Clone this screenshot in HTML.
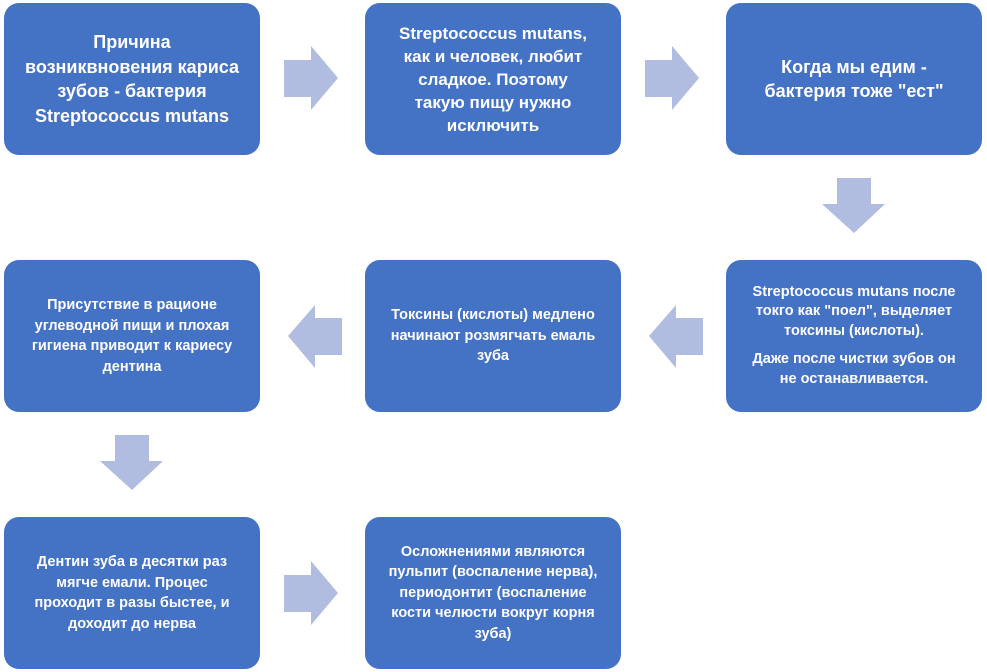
<!DOCTYPE html>
<html><head><meta charset="utf-8"><style>
body{margin:0;width:987px;height:672px;background:#fff;position:relative;overflow:hidden;font-family:"Liberation Sans",sans-serif;}
.b{position:absolute;width:256px;height:152px;background:#4472C4;border-radius:15px;color:#fff;font-weight:bold;display:flex;flex-direction:column;align-items:center;justify-content:center;text-align:center;box-sizing:border-box;white-space:nowrap;}
.l{font-size:18px;line-height:24.5px;}
.s{font-size:14.5px;line-height:20.5px;}
svg{position:absolute;left:0;top:0}
p{margin:0}
</style></head><body>
<div class="b l" style="left:4px;top:3px">Причина<br>возниквновения кариса<br>зубов - бактерия<br>Streptococcus mutans</div>
<div class="b" style="left:365px;top:3px;font-size:17px;line-height:23px">Streptococcus mutans,<br>как и человек, любит<br>сладкое. Поэтому<br>такую пищу нужно<br>исключить</div>
<div class="b l" style="left:726px;top:3px">Когда мы едим -<br>бактерия тоже "ест"</div>
<div class="b s" style="left:4px;top:260px">Присутствие в рационе<br>углеводной пищи и плохая<br>гигиена приводит к кариесу<br>дентина</div>
<div class="b s" style="left:365px;top:260px">Токсины (кислоты) медлено<br>начинают розмягчать емаль<br>зуба</div>
<div class="b s" style="left:726px;top:260px;line-height:19.5px"><p>Streptococcus mutans после<br>токго как "поел", выделяет<br>токсины (кислоты).</p><p style="margin-top:9px">Даже после чистки зубов он<br>не останавливается.</p></div>
<div class="b s" style="left:4px;top:517px">Дентин зуба в десятки раз<br>мягче емали. Процес<br>проходит в разы быстее, и<br>доходит до нерва</div>
<div class="b s" style="left:365px;top:517px">Осложнениями являются<br>пульпит (воспаление нерва),<br>периодонтит (воспаление<br>кости челюсти вокруг корня<br>зуба)</div>
<svg width="987" height="672" fill="#B0BDE0">
<polygon points="284,60 311,60 311,46 338,78 311,110 311,97 284,97"/>
<polygon points="645,60 672,60 672,46 699,78 672,110 672,97 645,97"/>
<polygon points="837,178 871,178 871,204 885,204 854,233 822,204 837,204"/>
<polygon points="703,318 676,318 676,305 649,336 676,368 676,355 703,355"/>
<polygon points="342,318 315,318 315,305 288,336 315,368 315,355 342,355"/>
<polygon points="115,435 149,435 149,461 163,461 132,490 100,461 115,461"/>
<polygon points="284,575 311,575 311,561 338,593 311,625 311,612 284,612"/>
</svg>
</body></html>
